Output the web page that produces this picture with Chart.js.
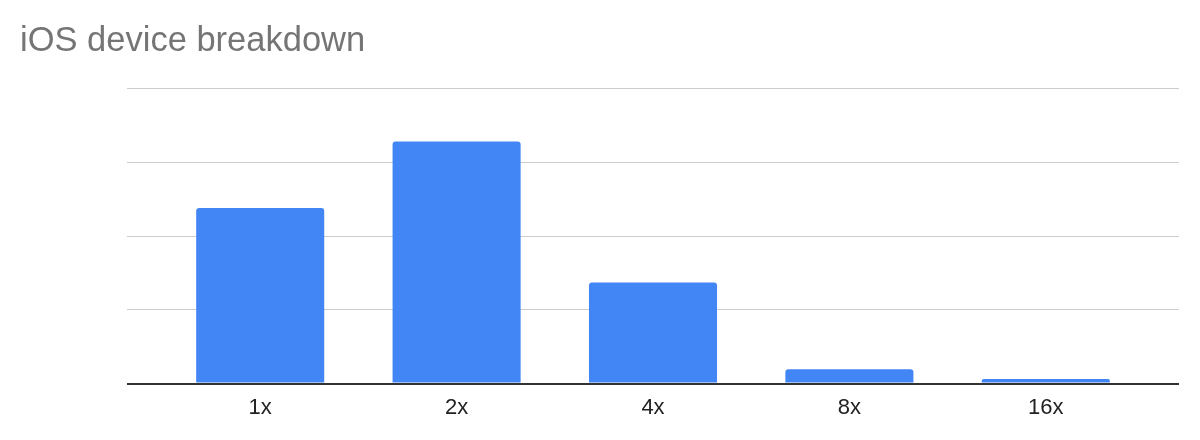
<!DOCTYPE html>
<html>
<head>
<meta charset="utf-8">
<script src="https://cdn.jsdelivr.net/npm/chart.js@4"></script>
<style>
  html, body { margin: 0; padding: 0; background: #fff; }
  #wrap { width: 1200px; height: 440px; }
</style>
</head>
<body>
<div id="wrap"><canvas id="grafica"></canvas></div>
<script>
// Datos
const categorias = ['1x', '2x', '4x', '8x', '16x'];
const valores = [2.38, 3.28, 1.37, 0.196, 0.064];
const ejeMin = 0;
const ejeMax = 4;
const paso = 1;

const fuente = '"Liberation Sans", Arial, Helvetica, sans-serif';

// color de la cuadrícula: la línea base es oscura
const colorRejilla = ctx => (ctx.tick && ctx.tick.value === 0 ? '#333333' : '#cccccc');
const anchoRejilla = ctx => (ctx.tick && ctx.tick.value === 0 ? 2 : 1);

new Chart(document.getElementById('grafica'), {
    type: 'bar',
    data: {
        labels: categorias,
        datasets: [{
            label: 'Dispositivos iOS',
            data: valores,
            backgroundColor: '#4285f4',
            borderRadius: { topLeft: 3, topRight: 3 },
            borderSkipped: 'start',
            categoryPercentage: 1,
            barPercentage: 0.652,
        }]
    },
    options: {
        responsive: true,
        maintainAspectRatio: false,
        animation: false,
        layout: { padding: { left: 20, right: 0, top: 0, bottom: 16 } },
        plugins: {
            legend: { display: false },
            tooltip: { enabled: false },
            title: {
                display: true,
                text: 'iOS device breakdown',
                align: 'start',
                color: '#757575',
                font: { family: fuente, size: 34.5, weight: 'normal' },
                padding: { top: 21, bottom: 26 },
            }
        },
        scales: {
            x: {
                z: 1,
                grid: { display: false },
                border: { display: true, color: '#333333', width: 2 },
                ticks: {
                    color: '#222222',
                    padding: 3,
                    font: { family: fuente, size: 22 },
                },
            },
            y: {
                min: ejeMin,
                max: ejeMax,
                afterFit: s => { s.width = 142; },
                ticks: { display: false, stepSize: paso },
                border: { display: false },
                grid: {
                    color: colorRejilla,
                    lineWidth: anchoRejilla,
                    drawTicks: true,
                    tickLength: 35,
                },
            },
            y2: {
                position: 'right',
                min: ejeMin,
                max: ejeMax,
                afterFit: s => { s.width = 56; },
                ticks: { display: false, stepSize: paso },
                border: { display: false },
                grid: {
                    drawOnChartArea: false,
                    color: colorRejilla,
                    lineWidth: anchoRejilla,
                    drawTicks: true,
                    tickLength: 35,
                },
            }
        }
    }
});
</script>
</body>
</html>
